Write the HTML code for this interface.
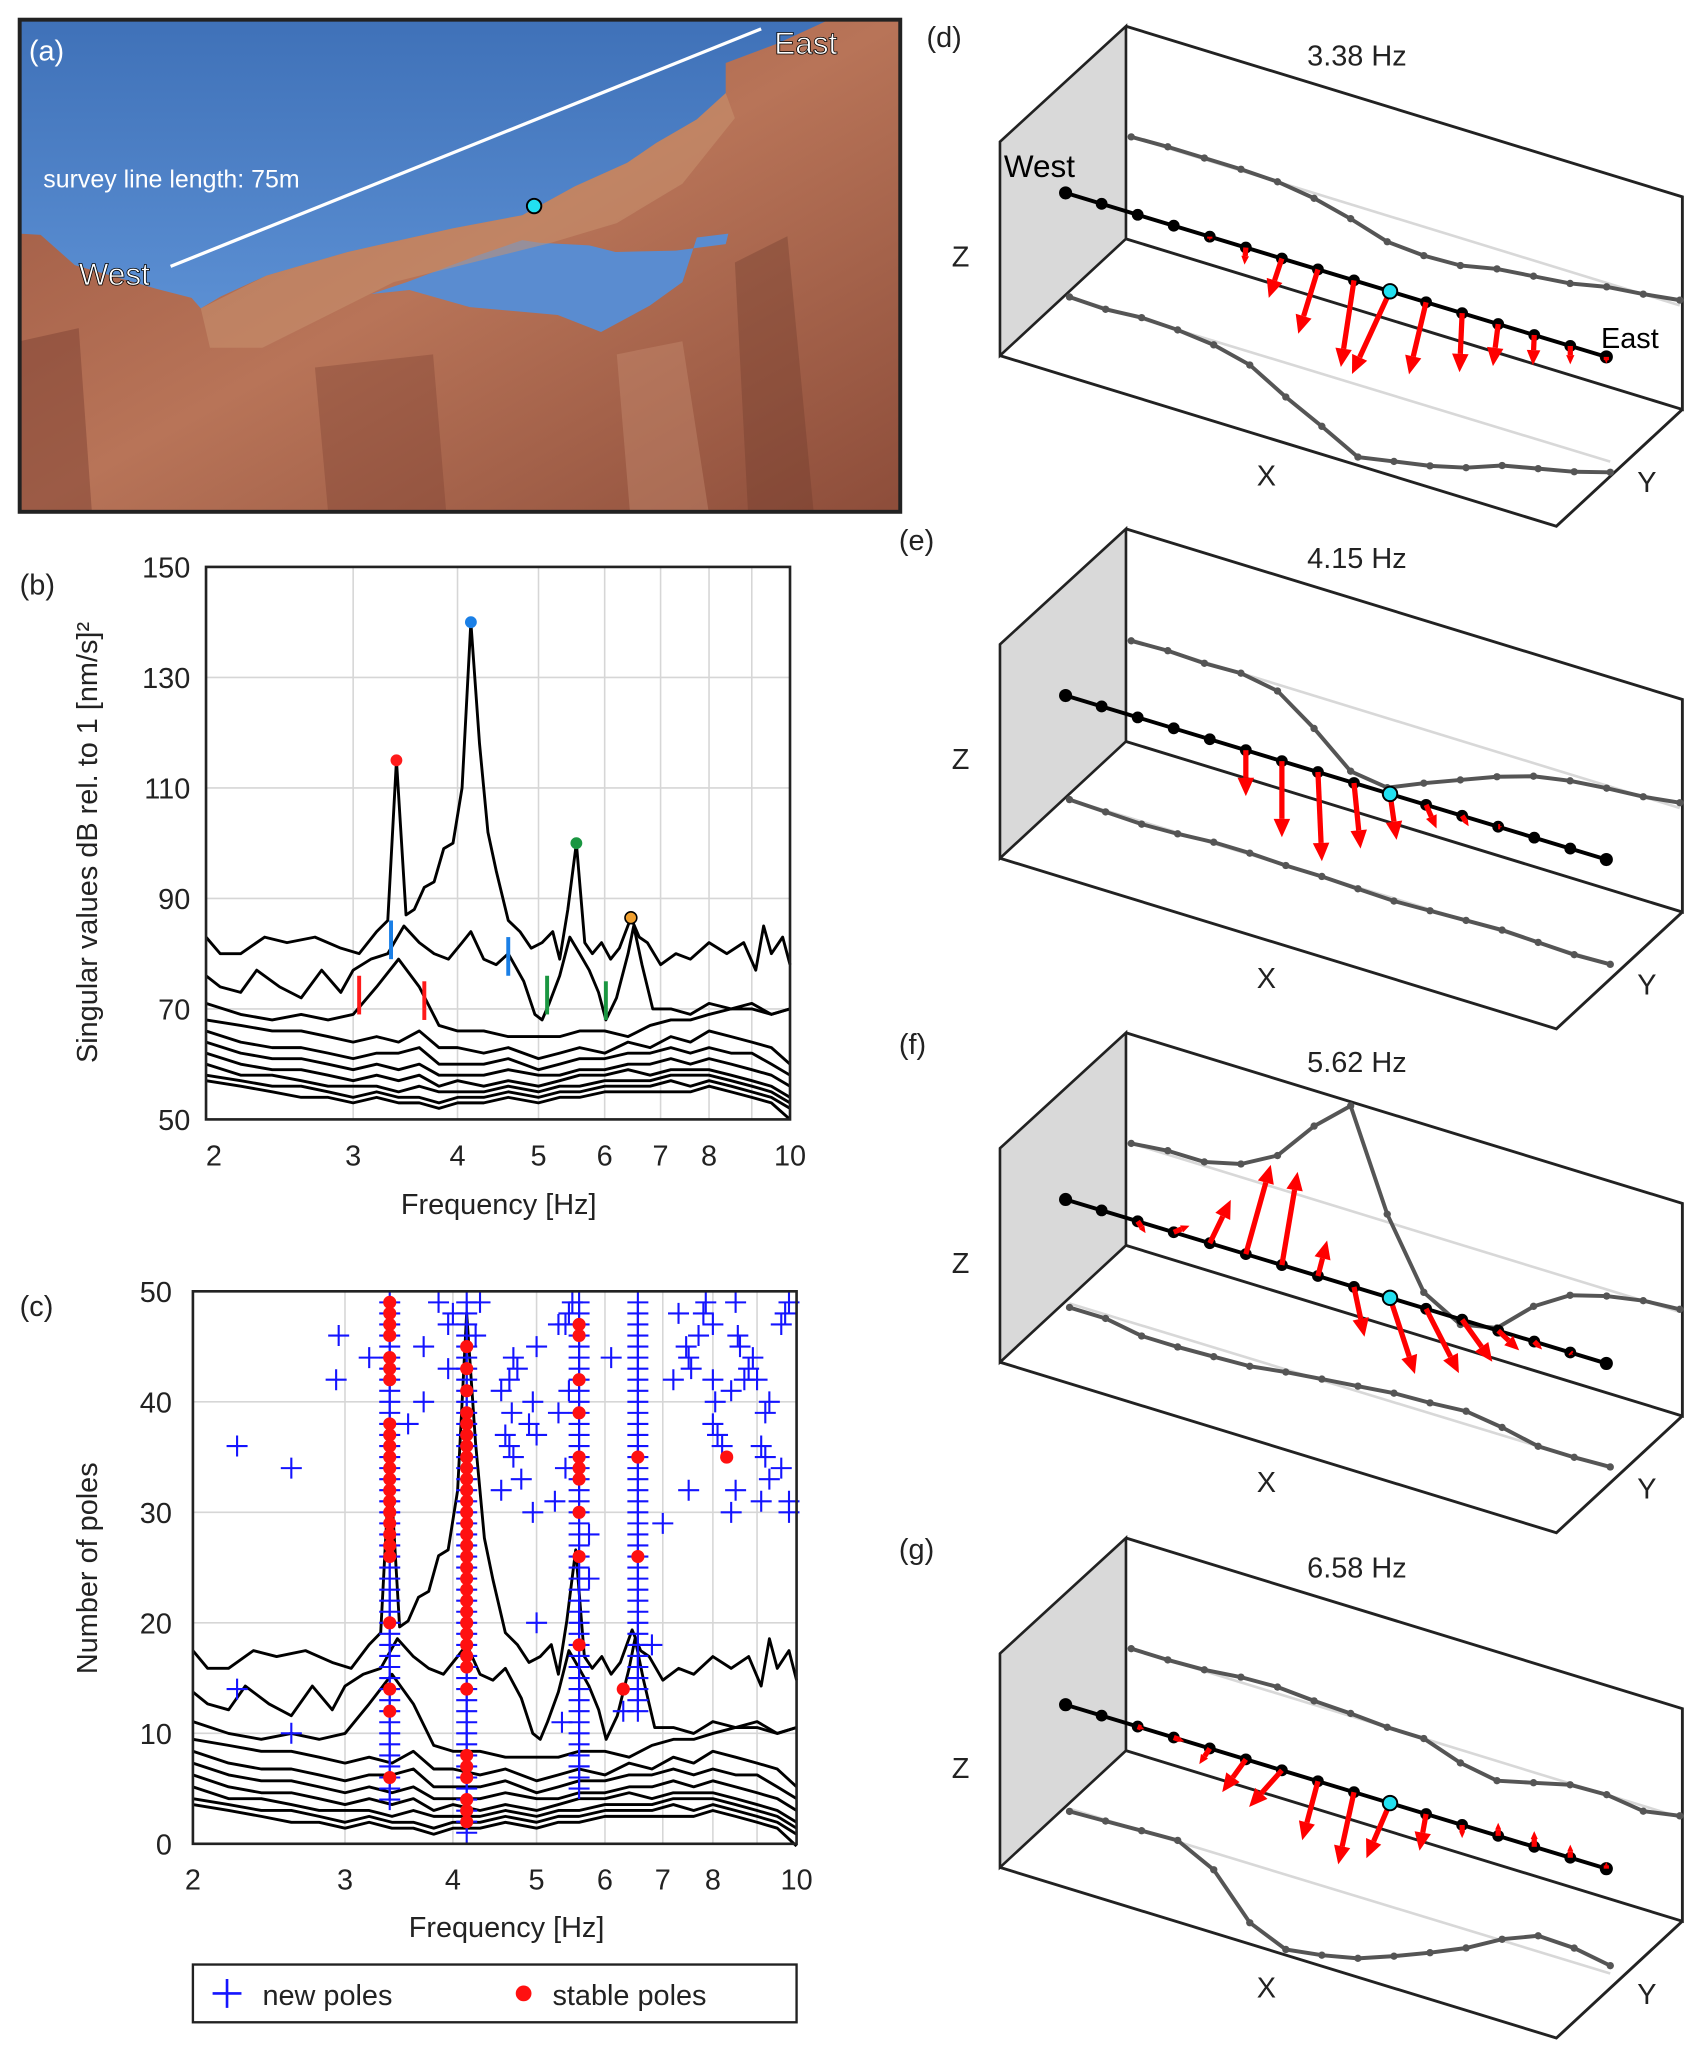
<!DOCTYPE html>
<html><head><meta charset="utf-8">
<style>
html,body{margin:0;padding:0;background:#fff;}
svg{display:block;font-family:"Liberation Sans",Arial,sans-serif;}
</style></head>
<body>
<svg id="fig" width="1706" height="2069" viewBox="0 0 1300 1576.6" preserveAspectRatio="none" xmlns="http://www.w3.org/2000/svg">
<g id="photo">
  <rect x="15" y="15" width="671" height="375" fill="#a8614a"/>
  <defs><linearGradient id="sky" x1="0" y1="0" x2="0" y2="1"><stop offset="0" stop-color="#3f71b8"/><stop offset="1" stop-color="#5b8fd3"/></linearGradient>
  <linearGradient id="rk" x1="0" y1="0" x2="1" y2="1"><stop offset="0" stop-color="#9a5540"/><stop offset="0.5" stop-color="#b87458"/><stop offset="1" stop-color="#8d4d3a"/></linearGradient></defs>
  <rect x="15" y="15" width="671" height="375" fill="url(#rk)"/>
  <polygon fill="url(#sky)" points="15,15 632,15 593,33 553,48 553,71 531,91 500,109 478,124 438,142 398,164 345,174 265,192 203,210 168,226 153,235 146,227 119,220 57,202 31,179 15,178"/>
  <polygon fill="#5a8cd0" points="283,224 312,221 358,234 425,240 458,253 495,233 520,215 531,181 555,178 553,186 515,191 469,192 449,187 411,185 398,183 363,195 310,215"/>
  <polygon fill="#c9916f" opacity="0.55" points="153,235 203,210 265,192 345,174 398,164 438,142 478,124 500,109 531,91 553,71 560,90 520,140 470,170 420,185 360,200 300,215 250,240 200,265 160,265"/>
  <polygon fill="#7a3f30" opacity="0.45" points="15,260 60,250 70,390 15,390"/>
  <polygon fill="#7a3f30" opacity="0.35" points="240,280 330,270 340,390 250,390"/>
  <polygon fill="#6e3a2c" opacity="0.35" points="560,200 600,180 620,390 570,390"/>
  <polygon fill="#c98f74" opacity="0.4" points="470,270 520,260 540,390 480,390"/>
  <rect x="15" y="15" width="671" height="375" fill="none" stroke="#222" stroke-width="3"/>
  <line x1="130" y1="203" x2="580" y2="22" stroke="#fff" stroke-width="2.5"/>
  <circle cx="407" cy="157" r="5.5" fill="#22e0f0" stroke="#000" stroke-width="1.5"/>
  <text x="22" y="46" fill="#fff" font-size="22">(a)</text>
  <text x="33" y="143" fill="#fff" font-size="19">survey line length: 75m</text>
  <text x="60" y="217" fill="#fff" font-size="24" stroke="#000" stroke-width="0.6">West</text>
  <text x="590" y="41" fill="#fff" font-size="24" stroke="#000" stroke-width="0.6">East</text>
</g>
<g id="pb"></g>
<g id="pc"></g>
<g id="p3d"></g>
</svg>
<script>
// ---------- DATA ----------
const c1F=[2,2.08,2.2,2.35,2.5,2.7,2.9,3.05,3.2,3.3,3.38,3.47,3.55,3.65,3.75,3.85,3.95,4.05,4.15,4.25,4.35,4.45,4.6,4.75,4.9,5.05,5.2,5.3,5.42,5.55,5.68,5.8,5.95,6.1,6.25,6.45,6.6,6.75,7.0,7.3,7.6,8.0,8.4,8.8,9.1,9.3,9.5,9.8,10];
const c1V=[83,80,80,83,82,83,81,80,84,86,115,87,88,92,93,99,100,110,140,118,102,95,86,84,81,82,84,79,88,100,82,80,82,79,81,86.5,83,82,78,80,79,82,80,82,77,85,80,83,78];
const c2F=[2,2.08,2.2,2.3,2.45,2.6,2.75,2.9,3.0,3.15,3.3,3.45,3.6,3.75,3.9,4.05,4.15,4.3,4.45,4.6,4.8,4.95,5.05,5.15,5.3,5.45,5.6,5.75,5.9,6.02,6.2,6.4,6.5,6.65,6.85,7.2,7.6,8.0,8.5,9.0,9.5,10];
const c2V=[76,74,73,77,74,72,77,73,77,79,80,85,82,80,79,82,84,79,78,80,75,69,68,71,76,83,80,77,73,68,72,80,85,78,70,70,69,71,70,71,69,70];
const fGrid=[2,2.2,2.4,2.6,2.8,3,3.2,3.4,3.6,3.8,4,4.3,4.6,5,5.3,5.6,6,6.4,6.8,7.2,7.6,8,8.5,9,9.5,10];
const c3V=[71,69,68,69,68,69,74,79,74,67,66,66,65,65,65,66,66,65,67,68,68,69,70,70,69,70];
const c4V=[68,67,66,66,65,64,65,64,66,63,63,62,63,61,62,63,62,64,63,65,64,66,65,64,63,60];
const c5V=[66,64,63,63,62,61,62,62,63,60,60,60,61,59,60,61,61,62,62,63,62,63,62,62,60,58];
const c6V=[64,62,61,61,60,59,60,59,60,58,58,58,59,58,58,59,59,60,60,61,60,61,60,59,58,56];
const c7V=[62,60,59,59,58,57,58,57,58,56,57,56,57,56,57,58,58,59,58,59,59,59,58,57,56,54];
const c8V=[60,58,58,57,56,56,56,55,56,55,55,55,56,55,56,56,57,57,57,58,58,58,57,56,55,53];
const c9V=[58,57,56,56,55,54,55,54,54,53,54,54,55,54,55,55,56,56,56,57,56,57,56,55,54,52];
const c10V=[57,56,55,54,54,53,54,53,53,52,53,53,54,53,54,54,55,55,55,55,55,56,55,54,53,50];
const peakF=[3.38,4.15,5.55,6.45];
const peakV=[115,140,100,86.5];
const peakColors=["#ff1a1a","#1a7fe6","#1a9641","#f0a030"];
const bandF=[3.05,3.65,3.33,4.6,5.12,6.02];
const bandLo=[69,68,79,76,69,68];
const bandColors=["#ff1a1a","#ff1a1a","#1a7fe6","#1a7fe6","#1a9641","#1a9641"];
const yTicksB=[50,70,90,110,130,150];
const xTicks=[2,3,4,5,6,7,8,10];
const xGrid=[3,4,5,6,7,8,9];
const yTicksC=[0,10,20,30,40,50];
// poles
const colF=[3.38,4.15,5.6,6.55];
const newCol0=[4,5,6,7,8,9,10,11,12,13,14,15,16,17,18,19,20,21,22,23,24,25,26,27,28,29,30,31,32,33,34,35,36,37,38,39,40,41,42,43,44,45,46,47,48,49];
const newCol1=[1,2,3,4,5,6,7,8,9,10,11,12,13,14,15,16,17,18,19,20,21,22,23,24,25,26,27,28,29,30,31,32,33,34,35,36,37,38,39,40,41,42,43,44,45,46,47,48,49];
const newCol2=[5,6,7,8,9,10,11,12,13,14,15,16,17,18,19,20,21,22,23,24,25,26,27,28,29,30,31,32,33,34,35,36,37,38,39,40,41,42,43,44,45,46,47,48,49];
const newCol3=[12,13,14,15,16,17,18,19,20,21,22,23,24,25,26,27,28,29,30,31,32,33,34,35,36,37,38,39,40,41,42,43,44,45,46,47,48,49];
const scatF=[2.25,2.6,2.25,2.6,2.95,2.93,3.2,3.7,3.7,3.55,3.85,3.95,4.0,3.95,4.3,4.25,4.55,4.65,4.7,4.75,4.68,4.6,4.65,4.7,4.8,4.55,4.95,5.25,4.9,5.0,5.0,4.95,5.3,5.4,5.45,5.5,5.3,5.45,5.4,5.75,5.75,5.0,6.1,7.0,7.2,7.3,7.45,7.5,7.55,7.5,7.7,7.8,7.85,8.0,8.0,8.05,8.0,8.1,8.2,8.5,8.4,8.55,8.6,8.9,8.8,8.7,8.5,8.4,9.0,9.2,9.3,9.1,9.2,9.1,9.3,9.6,9.8,9.8,9.6,9.7,9.8,6.8,5.35,5.6,6.3];
const scatP=[36,34,14,10,46,42,44,45,40,38,49,47,48,43,49,46,41,42,44,43,39,37,36,35,33,32,30,31,38,37,45,40,39,47,48,49,47,41,34,28,24,20,44,29,42,48,45,44,43,32,46,48,49,47,42,40,38,37,36,49,41,46,45,44,43,42,32,30,42,39,40,36,35,31,33,34,31,30,47,48,49,18,11,7,12];
const stab0=[49,48,47,46,44,43,42,38,37,36,35,34,33,32,31,30,29,28,27,26,20,14,12,6];
const stab1=[45,43,41,39,38,37,36,35,34,33,32,31,30,29,28,27,26,25,24,23,22,21,20,19,18,17,16,14,8,7,6,4,3,2];
const stab2=[47,46,42,39,35,34,33,30,26,18];
const stab3=[35,26];
const stabExtraF=[6.3,8.3];
const stabExtraP=[14,35];
// mode shapes (4 panels): back-wall (Z) offsets, floor (Y) offsets, arrow dx/dy per station
const modeTitles=["3.38 Hz","4.15 Hz","5.62 Hz","6.58 Hz"];
const modeLabels=["(d)","(e)","(f)","(g)"];
const backD=[0,-1,-1,-1,0,4,11,20,22,21,15,12,9,3,0,-4];
const floorD=[0,1,-1,0,3,10,26,40,55,50,45,38,28,22,16,8];
const arrDxD=[0,0,0,0,0,-1,-10,-15,-10,-29,-13,-2,-4,-1,0,0];
const arrDyD=[0,0,0,0,3,13,30,49,66,63,55,45,32,23,14,5];
const backE=[1,0,1,0,5,25,49,53,41,30,19,10,5,2,0,-4];
const floorE=[0,1,2,1,-1,-1,0,0,1,2,1,0,-1,0,1,0];
const arrDxE=[0,0,0,0,0,0,0,3,5,5,8,5,3,0,0,0];
const arrDyE=[0,0,0,0,0,35,58,68,50,35,18,8,0,0,0,0];
const backF=[0,-3,-3,-10,-25,-56,-80,-6,45,61,55,30,13,5,0,-2];
const floorF=[3,3,8,8,7,6,2,-1,-4,-7,-8,-10,-6,0,0,-1];
const arrDxF=[0,0,6,12,16,19,12,7,8,19,25,23,16,6,2,0];
const arrDyF=[0,0,9,-5,-33,-68,-71,-27,38,58,49,32,15,6,2,0];
const backG=[0,0,-1,-4,-5,-3,-2,0,0,10,15,8,1,0,4,-1];
const floorG=[2,1,0,-1,13,45,57,53,47,37,26,14,-1,-12,-11,-6];
const arrDxG=[0,0,5,8,-8,-18,-25,-12,-12,-18,-5,0,0,0,0,0];
const arrDyG=[0,0,2,3,12,25,28,45,55,42,28,10,-10,-12,-10,-5];

// ---------- HELPERS ----------
const NS="http://www.w3.org/2000/svg";
function mk(parent,tag,attrs){const e=document.createElementNS(NS,tag);for(const k in attrs)e.setAttribute(k,attrs[k]);parent.appendChild(e);return e;}
function txt(parent,x,y,s,size,anchor,extra){const t=mk(parent,"text",Object.assign({x:x,y:y,"font-size":size,"text-anchor":anchor||"start",fill:"#222"},extra||{}));t.textContent=s;return t;}

// ---------- PANEL B ----------
const pb=document.getElementById("pb");
const BX0=157,BX1=602,BY0=853,BY1=432;
const xb=f=>BX0+Math.log(f/2)/Math.log(5)*(BX1-BX0);
const yb=v=>BY0-(v-50)/100*(BY0-BY1);
xGrid.forEach(f=>{const l=mk(pb,"line",{x1:xb(f),x2:xb(f),y1:BY1,y2:BY0,stroke:"#d6d6d6","stroke-width":1.2});

});
yTicksB.forEach(v=>{const l=mk(pb,"line",{x1:BX0,x2:BX1,y1:yb(v),y2:yb(v),stroke:"#d6d6d6","stroke-width":1.2});


const t=txt(pb,BX0-12,yb(v)+8,String(v),22,"end");

});
xTicks.forEach(f=>{const t=txt(pb,xb(f)+(f===2?6:0),BY0+35,String(f),22,"middle");

});
function drawCurve(g,F,V,xf,yf,name){const d=F.map((f,i)=>(i?"L":"M")+xf(f).toFixed(1)+","+yf(V[i]).toFixed(1)).join("");
const p=mk(g,"path",{d:d,fill:"none",stroke:"#000","stroke-width":2.2,"stroke-linejoin":"round"});

}
const lowCurves=[c3V,c4V,c5V,c6V,c7V,c8V,c9V,c10V];
drawCurve(pb,c1F,c1V,xb,yb,"singular-value-1");
drawCurve(pb,c2F,c2V,xb,yb,"singular-value-2");
lowCurves.forEach(c=>drawCurve(pb,fGrid,c,xb,yb,"singular-value-lower"));
bandF.forEach((f,i)=>{const l=mk(pb,"line",{x1:xb(f),x2:xb(f),y1:yb(bandLo[i]),y2:yb(bandLo[i]+7),stroke:bandColors[i],"stroke-width":3});

});
peakF.forEach((f,i)=>{const c=mk(pb,"circle",{cx:xb(f),cy:yb(peakV[i]),r:4.5,fill:peakColors[i],stroke:i===3?"#000":"none","stroke-width":1.2});

});
const fb=mk(pb,"rect",{x:BX0,y:BY1,width:BX1-BX0,height:BY0-BY1,fill:"none",stroke:"#222","stroke-width":2});


let t=txt(pb,15,453,"(b)",22,"start");
t=txt(pb,380,925,"Frequency [Hz]",22,"middle");
t=txt(pb,0,0,"Singular values dB rel. to 1 [nm/s]²",22,"middle",{transform:"translate(74,642) rotate(-90)"});

// ---------- PANEL C ----------
const pc=document.getElementById("pc");
const CX0=147,CX1=607,CY0=1405,CY1=984;
const xc=f=>CX0+Math.log(f/2)/Math.log(5)*(CX1-CX0);
const yc=p=>CY0-p/50*(CY0-CY1);
const dbToP=v=>0.536*v-27;
xGrid.forEach(f=>{const l=mk(pc,"line",{x1:xc(f),x2:xc(f),y1:CY1,y2:CY0,stroke:"#d6d6d6","stroke-width":1.2});

});
yTicksC.forEach(v=>{const l=mk(pc,"line",{x1:CX0,x2:CX1,y1:yc(v),y2:yc(v),stroke:"#d6d6d6","stroke-width":1.2});


const t=txt(pc,CX0-16,yc(v)+8,String(v),22,"end");

});
xTicks.forEach(f=>{const t=txt(pc,xc(f),CY0+35,String(f),22,"middle");

});
const ycd=v=>yc(dbToP(v));
drawCurve(pc,c1F,c1V,xc,ycd,"spectrum-1");
drawCurve(pc,c2F,c2V,xc,ycd,"spectrum-2");
lowCurves.forEach(c=>drawCurve(pc,fGrid,c,xc,ycd,"spectrum-lower"));
function plus(g,f,p){const x=xc(f),y=yc(p);const e=mk(g,"path",{d:`M${x-8},${y}H${x+8}M${x},${y-8}V${y+8}`,stroke:"#1414ff","stroke-width":1.6,fill:"none"});

}
function dot(g,f,p){const e=mk(g,"circle",{cx:xc(f),cy:yc(p),r:5,fill:"#ff1010"});

}
[newCol0,newCol1,newCol2,newCol3].forEach((arr,k)=>arr.forEach(p=>plus(pc,colF[k],p)));
scatF.forEach((f,i)=>plus(pc,f,scatP[i]));
[stab0,stab1,stab2,stab3].forEach((arr,k)=>arr.forEach(p=>dot(pc,colF[k],p)));
stabExtraF.forEach((f,i)=>dot(pc,f,stabExtraP[i]));
const fc=mk(pc,"rect",{x:CX0,y:CY1,width:CX1-CX0,height:CY0-CY1,fill:"none",stroke:"#222","stroke-width":2});


t=txt(pc,15,1003,"(c)",22,"start");
t=txt(pc,386,1476,"Frequency [Hz]",22,"middle");
t=txt(pc,0,0,"Number of poles",22,"middle",{transform:"translate(74,1195) rotate(-90)"});
const lg=mk(pc,"g",{});


mk(lg,"rect",{x:147,y:1497,width:460,height:44,fill:"#fff",stroke:"#222","stroke-width":1.8});
mk(lg,"path",{d:"M162,1519H184M173,1508V1530",stroke:"#1414ff","stroke-width":2});
t=txt(lg,200,1528,"new poles",22,"start");
mk(lg,"circle",{cx:399,cy:1519,r:6,fill:"#ff1010"});
t=txt(lg,421,1528,"stable poles",22,"start");

// ---------- 3D PANELS ----------
const p3=document.getElementById("p3d");
const offs=[0,383,767,1152];
const backs=[backD,backE,backF,backG], floors=[floorD,floorE,floorF,floorG];
const adx=[arrDxD,arrDxE,arrDxF,arrDxG], ady=[arrDyD,arrDyE,arrDyF,arrDyG];
function arrow(g,x,y,dx,dy){const L=Math.hypot(dx,dy);if(L<2)return;const ux=dx/L,uy=dy/L;const h=Math.min(14,L*0.5),w=h*0.45;
const x2=x+dx,y2=y+dy,bx=x2-ux*h,by=y2-uy*h;
const a=mk(g,"g",{});


mk(a,"line",{x1:x,y1:y,x2:bx,y2:by,stroke:"#ff0000","stroke-width":4});
mk(a,"polygon",{points:`${x2},${y2} ${bx-uy*w},${by+ux*w} ${bx+uy*w},${by-ux*w}`,fill:"#ff0000"});}
offs.forEach((o,k)=>{
  const g=mk(p3,"g",{});
  
  
  const A=[762,108+o],B=[858,20+o],C=[1282,150+o],D=[1282,312+o],E=[858,182+o],F=[762,271+o],G=[1186,401+o];
  const face=mk(g,"polygon",{points:[A,B,E,F].map(p=>p.join(",")).join(" "),fill:"#d9d9d9",stroke:"#222","stroke-width":2});
  
  
  const box=mk(g,"path",{d:`M${B}L${C}L${D}L${E}M${F}L${G}L${D}`,fill:"none",stroke:"#222","stroke-width":2.2});
  
  
  // reference lines
  mk(g,"line",{x1:862,y1:104.3+o,x2:1280,y2:232.7+o,stroke:"#d8d8d8","stroke-width":2});
  mk(g,"line",{x1:815,y1:226.3+o,x2:1227,y2:351.8+o,stroke:"#d8d8d8","stroke-width":2});
  const bk=backs[k].map((v,i)=>[862+i*27.87,104.3+o+i*8.56+v]);
  const fl=floors[k].map((v,i)=>[815+i*27.47,226.3+o+i*8.37+v]);
  [[bk,'xz-projection'],[fl,'xy-projection']].forEach(([pts,nm])=>{
    const pl=mk(g,"polyline",{points:pts.map(p=>p.map(n=>n.toFixed(1)).join(",")).join(" "),fill:"none",stroke:"#555","stroke-width":3});
    
    
    pts.forEach(p=>mk(g,"circle",{cx:p[0],cy:p[1],r:2.8,fill:"#555"}));});
  const sv=[];for(let i=0;i<16;i++)sv.push([812+i*27.47,147+o+i*8.33]);
  const sl=mk(g,"line",{x1:sv[0][0],y1:sv[0][1],x2:sv[15][0],y2:sv[15][1],stroke:"#000","stroke-width":3});
  
  
  sv.forEach((p,i)=>{if(i!==9)mk(g,"circle",{cx:p[0],cy:p[1],r:i===0||i===15?5:4.5,fill:"#000"});});
  sv.forEach((p,i)=>arrow(g,p[0],p[1],adx[k][i],ady[k][i]));
  const cy=mk(g,"circle",{cx:sv[9][0],cy:sv[9][1],r:5.5,fill:"#22e0f0",stroke:"#000","stroke-width":1.5});
  
  
  let t=txt(g,1034,50+o,modeTitles[k],22,"middle");
  t=txt(g,k===0?706:685,36+o,modeLabels[k],22,"start");
  t=txt(g,732,203+o,"Z",22,"middle");
  t=txt(g,965,370+o,"X",22,"middle");
  t=txt(g,1255,375+o,"Y",22,"middle");
  if(k===0){t=txt(g,765,135,"West",24,"start",{fill:"#000"});
    t=txt(g,1220,265,"East",22,"start",{fill:"#000"});}
});
</script>
</body></html>
